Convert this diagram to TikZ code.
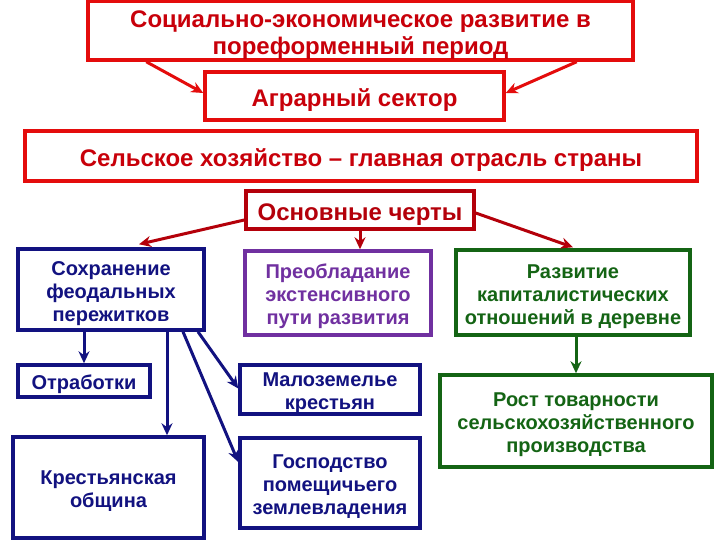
\documentclass[tikz,border=0pt]{standalone}
\usepackage{fontspec}
\setmainfont{Liberation Sans}
\usetikzlibrary{arrows.meta}
\definecolor{bred}{RGB}{228,12,12}
\definecolor{tred}{RGB}{200,0,10}
\definecolor{dred}{RGB}{180,0,10}
\definecolor{navy}{RGB}{18,18,128}
\definecolor{purp}{RGB}{112,48,160}
\definecolor{dgreen}{RGB}{20,100,20}
\newcommand{\rpad}{\rule{0pt}{25pt}}
\newcommand{\bpad}{\rule{0pt}{21.5pt}}
\tikzset{
  box/.style={draw, rectangle, line width=3.5pt, inner sep=0pt, align=center, font=\bfseries},
  redbox/.style={box, draw=bred, text=tred, font=\fontsize{24}{27}\selectfont\bfseries},
  bluebox/.style={box, draw=navy, text=navy, font=\fontsize{20}{23}\selectfont\bfseries},
  purpbox/.style={box, draw=purp, text=purp, font=\fontsize{20}{23}\selectfont\bfseries},
  greenbox/.style={box, draw=dgreen, text=dgreen, font=\fontsize{20}{23}\selectfont\bfseries},
  arr/.style={line width=3pt, -{Stealth[length=12pt,width=11pt]}},
}
\begin{document}
\begin{tikzpicture}[x=1pt,y=-1pt]
\useasboundingbox[fill=white] (0,0) rectangle (720,540);
\node[redbox, minimum width=545pt, minimum height=59pt] (t1) at (360.5,30.5)
  {\rpad Социально-экономическое развитие в\\пореформенный период};
\node[redbox, minimum width=299pt, minimum height=48pt] (agr) at (354.5,96) {\rpad Аграрный сектор};
\node[redbox, minimum width=672pt, minimum height=50pt] (sh) at (361,156)
  {\rpad Сельское хозяйство – главная отрасль страны};
\node[redbox, draw=dred, text=dred, minimum width=228pt, minimum height=38pt] (osn) at (360,210) {\rpad Основные черты};
\node[bluebox, minimum width=186pt, minimum height=81pt] (sohr) at (111,289.5)
  {\bpad Сохранение\\феодальных\\пережитков};
\node[purpbox, minimum width=186pt, minimum height=84pt] (preob) at (338,293)
  {\bpad Преобладание\\экстенсивного\\пути развития};
\node[greenbox, minimum width=234pt, minimum height=85pt] (razv) at (573,292.5)
  {\bpad Развитие\\капиталистических\\отношений в деревне};
\node[bluebox, minimum width=132pt, minimum height=32pt] (otr) at (84,381) {\bpad Отработки};
\node[bluebox, minimum width=191pt, minimum height=101pt] (krest) at (108.5,487.5)
  {\bpad Крестьянская\\община};
\node[bluebox, minimum width=180pt, minimum height=47pt] (malo) at (330,389.5)
  {\bpad Малоземелье\\крестьян};
\node[bluebox, minimum width=180pt, minimum height=90pt] (gosp) at (330,483)
  {\bpad Господство\\помещичьего\\землевладения};
\node[greenbox, minimum width=272pt, minimum height=92pt] (rost) at (576,421)
  {\bpad Рост товарности\\сельскохозяйственного\\производства};
% red arrows
\draw[arr, bred] ([xshift=60pt]t1.south west) -- ([yshift=3pt]agr.west);
\draw[arr, bred] ([xshift=-58pt]t1.south east) -- ([yshift=3pt]agr.east);
\draw[arr, dred] ([yshift=-10pt]osn.west) -- ([xshift=28pt,yshift=3pt]sohr.north);
\draw[arr, dred] (osn.south) -- (osn.south |- preob.north);
\draw[arr, dred] ([yshift=-3pt]osn.east) -- ([yshift=1pt]razv.north);
% blue arrows
\draw[arr, navy] (otr.north |- sohr.south) -- (otr.north);
\coordinate (k1) at ([xshift=56pt]sohr.south);
\draw[arr, navy] (k1) -- (k1 |- krest.north);
\draw[arr, navy] ([xshift=87pt]sohr.south) -- ([yshift=1pt]malo.west);
\draw[arr, navy] ([xshift=72pt]sohr.south) -- ([yshift=21pt]gosp.west);
% green arrow
\draw[arr, dgreen] (rost.north |- razv.south) -- (rost.north);
\end{tikzpicture}
\end{document}
